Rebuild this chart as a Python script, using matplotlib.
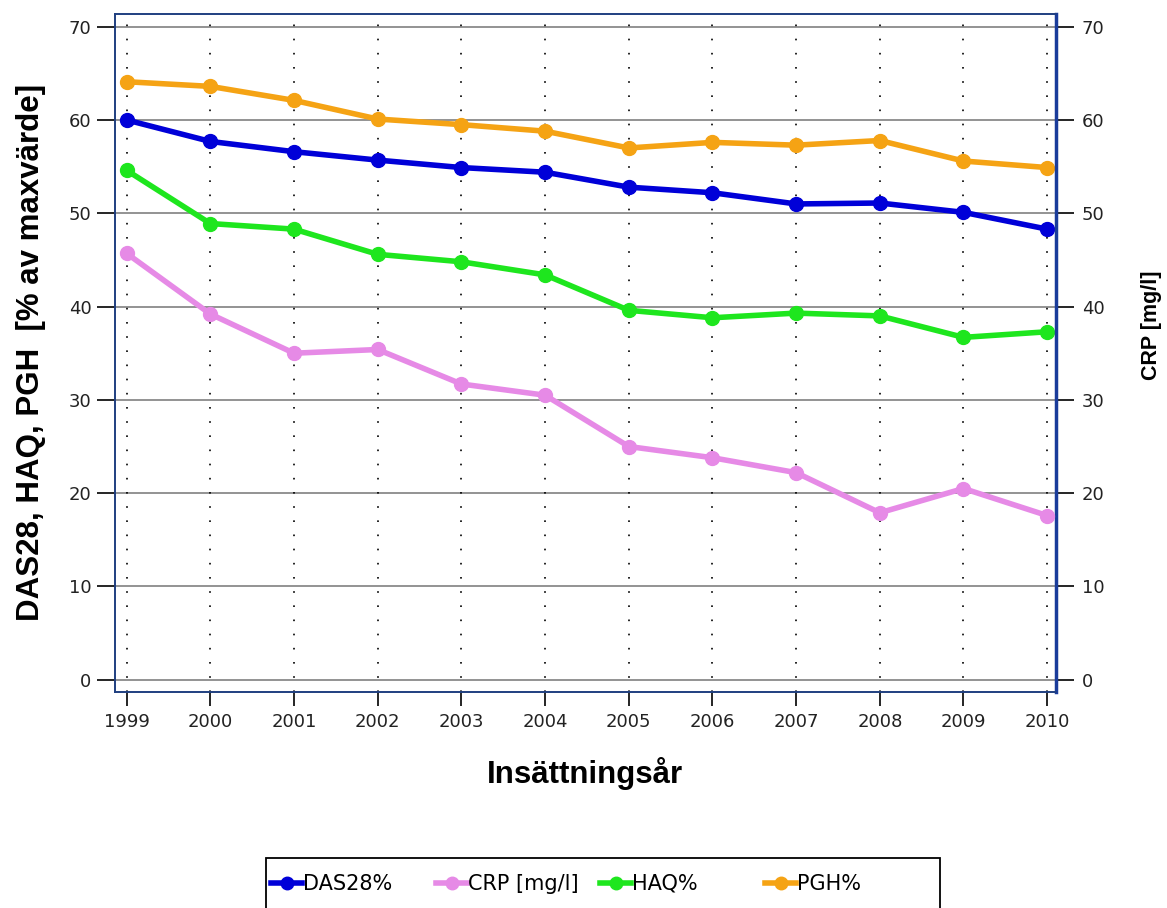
import numpy as np
import matplotlib
matplotlib.use("Agg")
from matplotlib import pyplot as plt
from matplotlib.patches import Rectangle

plt.rcParams['font.family'] = ['DejaVu Sans']

# data
years = [1999, 2000, 2001, 2002, 2003, 2004, 2005, 2006, 2007, 2008, 2009, 2010]
das28 = [60.0, 57.7, 56.6, 55.7, 54.9, 54.4, 52.8, 52.2, 51.0, 51.1, 50.1, 48.3]
crp   = [45.7, 39.2, 35.0, 35.4, 31.7, 30.5, 25.0, 23.8, 22.2, 17.9, 20.5, 17.6]
haq   = [54.6, 48.9, 48.3, 45.6, 44.8, 43.4, 39.6, 38.8, 39.3, 39.0, 36.7, 37.3]
pgh   = [64.1, 63.6, 62.1, 60.1, 59.5, 58.8, 57.0, 57.6, 57.3, 57.8, 55.6, 54.9]

labels  = ['DAS28%', 'CRP [mg/l]', 'HAQ%', 'PGH%']
colours = ['#0000d8', '#e68ae6', '#1ee61e', '#f5a314']
yticks  = [0, 10, 20, 30, 40, 50, 60, 70]

fig = plt.figure(figsize=(11.67, 9.08), dpi=100)
ax = fig.add_axes([0.0985, 0.238, 0.806, 0.747])
ax2 = ax.twinx()

frame_col = '#1f3f80'
for a in (ax, ax2):
    a.set_ylim(-1.3, 71.4)
    a.set_xlim(1998.86, 2010.1)
    a.set_yticks(yticks)
    for s in a.spines.values():
        s.set_color(frame_col)
        s.set_linewidth(1.2)
ax2.spines['right'].set_linewidth(2.5)
ax2.spines['right'].set_color('#1a3c9a')

# grid: solid grey horizontals, dotted verticals
for v in yticks:
    ax.axhline(v, color='#8a8a8a', lw=1.3, zorder=1)
for yr in years:
    ax.axvline(yr, color='black', lw=1.2, ls=(0, (1, 7.5)), zorder=1)

lw, ms = 4, 10
h1, = ax.plot(years, das28, color=colours[0], lw=lw, marker='o', ms=ms, zorder=3)
h3, = ax.plot(years, haq, color=colours[2], lw=lw, marker='o', ms=ms, zorder=3)
h4, = ax.plot(years, pgh, color=colours[3], lw=lw, marker='o', ms=ms, zorder=3)
h2, = ax2.plot(years, crp, color=colours[1], lw=lw, marker='o', ms=ms, zorder=3)

ax.set_xticks(years)
ax.set_xticklabels([str(y) for y in years])
ax.tick_params(axis='x', direction='out', length=10, width=1.2, color='black',
               labelsize=13, pad=5, labelcolor='#222222')
ax.tick_params(axis='y', direction='out', length=13, width=1.2, color='black',
               labelsize=13, pad=4, labelcolor='#222222')
ax2.tick_params(axis='y', direction='out', length=13, width=1.2, color='black',
                labelsize=13, pad=6, labelcolor='#222222')

ax.set_ylabel('DAS28, HAQ, PGH  [% av maxvärde]', fontsize=22.5, fontweight='bold',
              family='Liberation Sans', labelpad=16)
ax2.set_ylabel('CRP [mg/l]', fontsize=15.5, fontweight='bold',
               family='Liberation Sans', labelpad=26)
ax2.yaxis.label.set_y(0.54)
ax.set_xlabel('Insättningsår', fontsize=22.5, fontweight='bold',
              family='Liberation Sans', labelpad=19)

# legend: framed box with four evenly spaced entries
W, H = 1167.0, 908.0
fig.patches.append(Rectangle((266 / W, -0.05), (940 - 266) / W, 0.05 + (H - 858) / H,
                             transform=fig.transFigure, fill=False,
                             edgecolor='black', lw=1.3))
entry_x = [271, 436, 600, 765]
for h, lab, x in zip([h1, h2, h3, h4], labels, entry_x):
    fig.legend([h], [lab], loc='center left', bbox_to_anchor=(x / W, 1 - 884 / H),
               frameon=False, fontsize=15, handlelength=1.5, handletextpad=0.05,
               borderpad=0, borderaxespad=0, markerscale=0.9)

fig.savefig('out.png', dpi=100)
